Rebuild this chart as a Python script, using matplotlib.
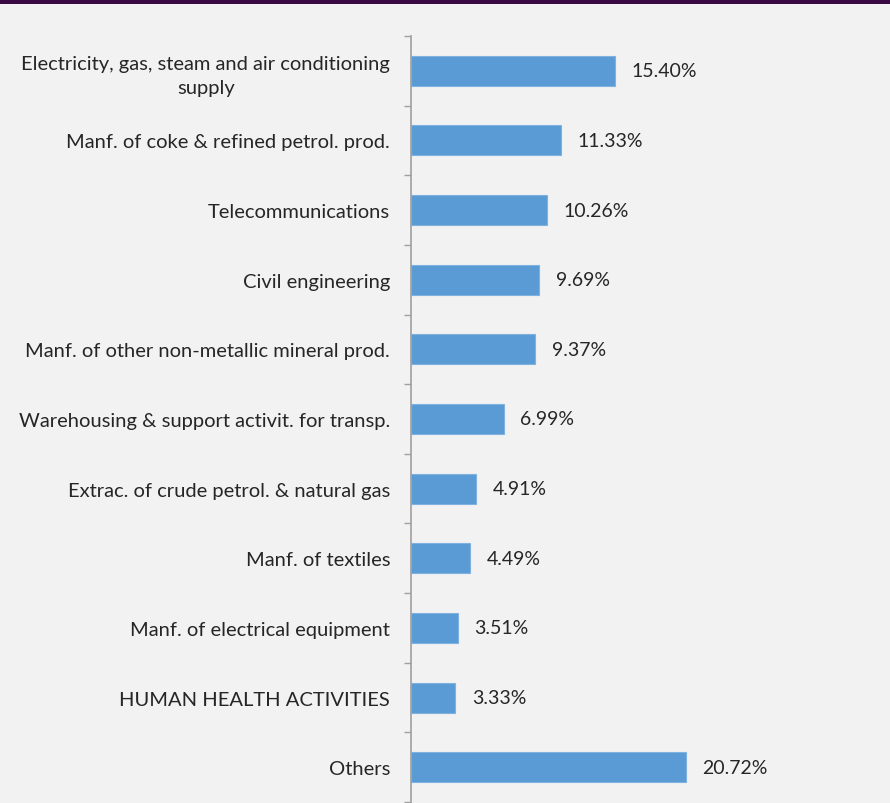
import numpy as np
import matplotlib.pyplot as plt
from matplotlib.patches import Rectangle

plt.rcParams['font.family'] = ['Lato', 'DejaVu Sans']

sectors = [
    "Electricity, gas, steam and air conditioning\nsupply",
    "Manf. of coke & refined petrol. prod.",
    "Telecommunications",
    "Civil engineering",
    "Manf. of other non-metallic mineral prod.",
    "Warehousing & support activit. for transp.",
    "Extrac. of crude petrol. & natural gas",
    "Manf. of textiles",
    "Manf. of electrical equipment",
    "HUMAN HEALTH ACTIVITIES",
    "Others",
]
shares = [15.40, 11.33, 10.26, 9.69, 9.37, 6.99, 4.91, 4.49, 3.51, 3.33, 20.72]

bg = "#f2f2f2"
bar_color = "#5b9bd5"

fig = plt.figure(figsize=(8.9, 8.04), dpi=100)
fig.patch.set_facecolor(bg)

# dark band along the top edge
fig.patches.append(Rectangle((0, 1 - 5 / 804), 1, 5 / 804, transform=fig.transFigure,
                             facecolor="#3b0a45", edgecolor="none"))

ax = fig.add_axes([411 / 890, 1 / 804, 479 / 890, 766 / 804])
ax.set_facecolor(bg)

y = np.arange(len(sectors))
ax.barh(y, shares, height=0.43, color=bar_color, edgecolor="#7fb2e0", linewidth=0.8)

for yi, v in zip(y, shares):
    ax.text(v + 1.25, yi, f"{v:.2f}%", va="center", ha="left",
            fontsize=14, color="#262626")

ax.set_xlim(0, 479 / 13.25)
ax.set_ylim(len(sectors) - 0.5, -0.5)

ax.set_yticks(y)
ax.set_yticklabels(sectors, fontsize=14.5, color="#262626")
for lbl in ax.get_yticklabels():
    lbl.set_multialignment("center")
    lbl.set_linespacing(1.45)
ax.tick_params(axis="y", which="major", length=0, pad=15)
ax.set_yticks(np.arange(-0.5, len(sectors), 1), minor=True)
ax.tick_params(axis="y", which="minor", length=5, width=1, color="#a0a0a0", direction="out")

ax.set_xticks([])
for side in ["top", "right", "bottom"]:
    ax.spines[side].set_visible(False)
ax.spines["left"].set_color("#a0a0a0")
ax.spines["left"].set_linewidth(1.2)

fig.savefig("out.png", dpi=100, facecolor=bg)
